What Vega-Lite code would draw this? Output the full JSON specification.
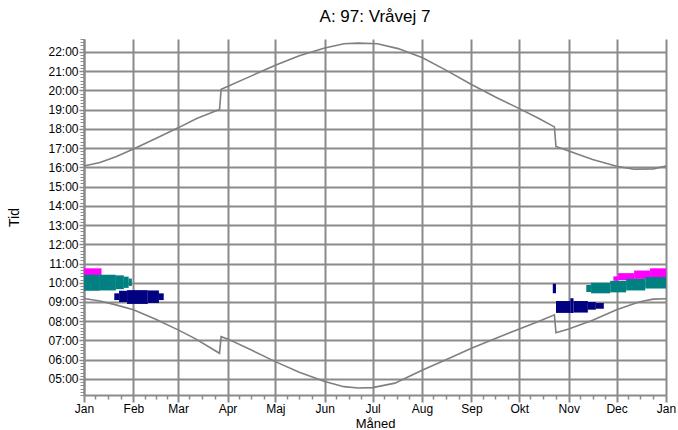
{
  "$schema": "https://vega.github.io/schema/vega-lite/v6.json",
  "autosize": "none",
  "width": 582,
  "height": 356,
  "padding": {"left": 84, "top": 39, "right": 12, "bottom": 35},
  "background": "white",
  "title": {"text": "A: 97: Vråvej 7", "font": "Liberation Sans", "fontSize": 17, "fontWeight": "normal", "color": "black", "anchor": "middle", "offset": 13},
  "config": {"view": {"stroke": null}},
  "datasets": {
    "patches": [
      {"zone": "magenta", "start": "2021-01-01", "end": "2021-01-12", "lo": 624, "hi": 645},
      {"zone": "magenta", "start": "2021-11-29", "end": "2021-12-02", "lo": 606, "hi": 620},
      {"zone": "magenta", "start": "2021-12-02", "end": "2021-12-12", "lo": 608, "hi": 630},
      {"zone": "magenta", "start": "2021-12-12", "end": "2021-12-22", "lo": 612, "hi": 638},
      {"zone": "magenta", "start": "2021-12-22", "end": "2022-01-01", "lo": 615, "hi": 645},
      {"zone": "teal", "start": "2021-01-01", "end": "2021-01-11", "lo": 575, "hi": 625},
      {"zone": "teal", "start": "2021-01-11", "end": "2021-01-21", "lo": 576, "hi": 625},
      {"zone": "teal", "start": "2021-01-21", "end": "2021-01-26", "lo": 580, "hi": 623},
      {"zone": "teal", "start": "2021-01-26", "end": "2021-01-29", "lo": 584, "hi": 619},
      {"zone": "teal", "start": "2021-01-29", "end": "2021-01-31", "lo": 590, "hi": 613},
      {"zone": "teal", "start": "2021-11-12", "end": "2021-11-15", "lo": 571, "hi": 593},
      {"zone": "teal", "start": "2021-11-15", "end": "2021-11-27", "lo": 567, "hi": 600},
      {"zone": "teal", "start": "2021-11-27", "end": "2021-12-07", "lo": 570, "hi": 606},
      {"zone": "teal", "start": "2021-12-07", "end": "2021-12-19", "lo": 576, "hi": 612},
      {"zone": "teal", "start": "2021-12-19", "end": "2022-01-01", "lo": 582, "hi": 618},
      {"zone": "navy", "start": "2021-01-20", "end": "2021-01-23", "lo": 546, "hi": 567},
      {"zone": "navy", "start": "2021-01-23", "end": "2021-01-28", "lo": 540, "hi": 575},
      {"zone": "navy", "start": "2021-01-28", "end": "2021-02-10", "lo": 534, "hi": 577},
      {"zone": "navy", "start": "2021-02-10", "end": "2021-02-17", "lo": 537, "hi": 576},
      {"zone": "navy", "start": "2021-02-17", "end": "2021-02-20", "lo": 546, "hi": 567},
      {"zone": "navy", "start": "2021-10-22", "end": "2021-10-24", "lo": 567, "hi": 597},
      {"zone": "navy", "start": "2021-10-24", "end": "2021-11-02", "lo": 506, "hi": 543},
      {"zone": "navy", "start": "2021-11-02", "end": "2021-11-04", "lo": 506, "hi": 552},
      {"zone": "navy", "start": "2021-11-04", "end": "2021-11-13", "lo": 507, "hi": 543},
      {"zone": "navy", "start": "2021-11-13", "end": "2021-11-18", "lo": 516, "hi": 540},
      {"zone": "navy", "start": "2021-11-18", "end": "2021-11-23", "lo": 519, "hi": 537}
    ],
    "sun": [
      {"series": "Solopgang", "date": "2021-01-01", "min": 551},
      {"series": "Solopgang", "date": "2021-01-11", "min": 543},
      {"series": "Solopgang", "date": "2021-01-21", "min": 531},
      {"series": "Solopgang", "date": "2021-02-01", "min": 516},
      {"series": "Solopgang", "date": "2021-02-15", "min": 486},
      {"series": "Solopgang", "date": "2021-03-01", "min": 453},
      {"series": "Solopgang", "date": "2021-03-12", "min": 425},
      {"series": "Solopgang", "date": "2021-03-27", "min": 380},
      {"series": "Solopgang", "date": "2021-03-28", "min": 432},
      {"series": "Solopgang", "date": "2021-04-01", "min": 425},
      {"series": "Solopgang", "date": "2021-04-16", "min": 390},
      {"series": "Solopgang", "date": "2021-05-01", "min": 354},
      {"series": "Solopgang", "date": "2021-05-16", "min": 321},
      {"series": "Solopgang", "date": "2021-06-01", "min": 292},
      {"series": "Solopgang", "date": "2021-06-13", "min": 276},
      {"series": "Solopgang", "date": "2021-06-22", "min": 272},
      {"series": "Solopgang", "date": "2021-07-01", "min": 273},
      {"series": "Solopgang", "date": "2021-07-15", "min": 287},
      {"series": "Solopgang", "date": "2021-08-01", "min": 327},
      {"series": "Solopgang", "date": "2021-08-16", "min": 360},
      {"series": "Solopgang", "date": "2021-09-01", "min": 396},
      {"series": "Solopgang", "date": "2021-09-16", "min": 426},
      {"series": "Solopgang", "date": "2021-10-01", "min": 456},
      {"series": "Solopgang", "date": "2021-10-13", "min": 479},
      {"series": "Solopgang", "date": "2021-10-23", "min": 500},
      {"series": "Solopgang", "date": "2021-10-24", "min": 444},
      {"series": "Solopgang", "date": "2021-11-01", "min": 456},
      {"series": "Solopgang", "date": "2021-11-16", "min": 483},
      {"series": "Solopgang", "date": "2021-12-01", "min": 516},
      {"series": "Solopgang", "date": "2021-12-15", "min": 540},
      {"series": "Solopgang", "date": "2021-12-24", "min": 549},
      {"series": "Solopgang", "date": "2022-01-01", "min": 550},
      {"series": "Solnedgang", "date": "2021-01-01", "min": 964},
      {"series": "Solnedgang", "date": "2021-01-11", "min": 975},
      {"series": "Solnedgang", "date": "2021-01-21", "min": 993},
      {"series": "Solnedgang", "date": "2021-02-01", "min": 1017},
      {"series": "Solnedgang", "date": "2021-02-15", "min": 1050},
      {"series": "Solnedgang", "date": "2021-03-01", "min": 1083},
      {"series": "Solnedgang", "date": "2021-03-13", "min": 1113},
      {"series": "Solnedgang", "date": "2021-03-27", "min": 1140},
      {"series": "Solnedgang", "date": "2021-03-28", "min": 1203},
      {"series": "Solnedgang", "date": "2021-04-01", "min": 1212},
      {"series": "Solnedgang", "date": "2021-04-16", "min": 1245},
      {"series": "Solnedgang", "date": "2021-05-01", "min": 1278},
      {"series": "Solnedgang", "date": "2021-05-16", "min": 1308},
      {"series": "Solnedgang", "date": "2021-06-01", "min": 1332},
      {"series": "Solnedgang", "date": "2021-06-13", "min": 1345},
      {"series": "Solnedgang", "date": "2021-06-22", "min": 1347},
      {"series": "Solnedgang", "date": "2021-07-04", "min": 1345},
      {"series": "Solnedgang", "date": "2021-07-17", "min": 1330},
      {"series": "Solnedgang", "date": "2021-08-01", "min": 1302},
      {"series": "Solnedgang", "date": "2021-08-16", "min": 1263},
      {"series": "Solnedgang", "date": "2021-09-01", "min": 1218},
      {"series": "Solnedgang", "date": "2021-09-16", "min": 1179},
      {"series": "Solnedgang", "date": "2021-10-01", "min": 1143},
      {"series": "Solnedgang", "date": "2021-10-13", "min": 1113},
      {"series": "Solnedgang", "date": "2021-10-23", "min": 1086},
      {"series": "Solnedgang", "date": "2021-10-24", "min": 1025},
      {"series": "Solnedgang", "date": "2021-11-01", "min": 1011},
      {"series": "Solnedgang", "date": "2021-11-16", "min": 984},
      {"series": "Solnedgang", "date": "2021-12-01", "min": 963},
      {"series": "Solnedgang", "date": "2021-12-12", "min": 954},
      {"series": "Solnedgang", "date": "2021-12-24", "min": 955},
      {"series": "Solnedgang", "date": "2022-01-01", "min": 964}
    ]
  },
  "layer": [
    {
      "data": {"name": "patches"},
      "mark": {"type": "rect"},
      "encoding": {
        "x": {
          "field": "start", "type": "temporal",
          "scale": {"type": "utc", "domain": [{"year": 2021, "month": 1, "date": 1, "utc": true}, {"year": 2022, "month": 1, "date": 1, "utc": true}], "nice": false},
          "axis": {
            "orient": "bottom",
            "values": [
              {"year": 2021, "month": 1, "date": 1, "utc": true}, {"year": 2021, "month": 2, "date": 1, "utc": true},
              {"year": 2021, "month": 3, "date": 1, "utc": true}, {"year": 2021, "month": 4, "date": 1, "utc": true},
              {"year": 2021, "month": 5, "date": 1, "utc": true}, {"year": 2021, "month": 6, "date": 1, "utc": true},
              {"year": 2021, "month": 7, "date": 1, "utc": true}, {"year": 2021, "month": 8, "date": 1, "utc": true},
              {"year": 2021, "month": 9, "date": 1, "utc": true}, {"year": 2021, "month": 10, "date": 1, "utc": true},
              {"year": 2021, "month": 11, "date": 1, "utc": true}, {"year": 2021, "month": 12, "date": 1, "utc": true},
              {"year": 2022, "month": 1, "date": 1, "utc": true}
            ],
            "labelExpr": "['Jan','Feb','Mar','Apr','Maj','Jun','Jul','Aug','Sep','Okt','Nov','Dec'][utcmonth(datum.value)]",
            "grid": true, "gridColor": "#8a8a8a", "gridWidth": 2, "gridOpacity": 1,
            "domainColor": "#8a8a8a", "domainWidth": 2,
            "tickColor": "#8a8a8a", "tickWidth": 2, "tickSize": 7,
            "labelFont": "Liberation Sans", "labelFontSize": 12, "labelColor": "black", "labelPadding": 1,
            "labelOverlap": false, "labelFlush": false,
            "title": "Måned", "titleFont": "Liberation Sans", "titleFontSize": 13, "titleFontWeight": "normal", "titleColor": "black", "titlePadding": 3
          }
        },
        "x2": {"field": "end"},
        "y": {
          "field": "lo", "type": "quantitative",
          "scale": {"domain": [250, 1360], "nice": false, "zero": false},
          "axis": {
            "orient": "left",
            "values": [300, 360, 420, 480, 540, 600, 660, 720, 780, 840, 900, 960, 1020, 1080, 1140, 1200, 1260, 1320],
            "labelExpr": "(datum.value < 600 ? '0' : '') + floor(datum.value / 60) + ':00'",
            "grid": true, "gridColor": "#8a8a8a", "gridWidth": 2, "gridOpacity": 1,
            "domainColor": "#8a8a8a", "domainWidth": 2,
            "tickColor": "#8a8a8a", "tickWidth": 1.5, "tickSize": 5,
            "labelFont": "Liberation Sans", "labelFontSize": 12, "labelColor": "black", "labelPadding": 1,
            "labelOverlap": false,
            "title": "Tid", "titleFont": "Liberation Sans", "titleFontSize": 14, "titleFontWeight": "normal", "titleColor": "black", "titlePadding": 26
          }
        },
        "y2": {"field": "hi"},
        "color": {
          "field": "zone", "type": "nominal",
          "scale": {"domain": ["magenta", "teal", "navy"], "range": ["#FF00FF", "#008080", "#000080"]},
          "legend": null
        }
      }
    },
    {
      "data": {"name": "sun"},
      "mark": {"type": "line", "color": "#7f7f7f", "strokeWidth": 1.6, "interpolate": "linear"},
      "encoding": {
        "x": {
          "field": "date", "type": "temporal",
          "axis": {
            "orient": "bottom",
            "values": [
              {"year": 2021, "month": 1, "date": 8, "utc": true}, {"year": 2021, "month": 1, "date": 16, "utc": true}, {"year": 2021, "month": 1, "date": 24, "utc": true},
              {"year": 2021, "month": 2, "date": 8, "utc": true}, {"year": 2021, "month": 2, "date": 15, "utc": true}, {"year": 2021, "month": 2, "date": 22, "utc": true},
              {"year": 2021, "month": 3, "date": 8, "utc": true}, {"year": 2021, "month": 3, "date": 16, "utc": true}, {"year": 2021, "month": 3, "date": 24, "utc": true},
              {"year": 2021, "month": 4, "date": 8, "utc": true}, {"year": 2021, "month": 4, "date": 16, "utc": true}, {"year": 2021, "month": 4, "date": 24, "utc": true},
              {"year": 2021, "month": 5, "date": 8, "utc": true}, {"year": 2021, "month": 5, "date": 16, "utc": true}, {"year": 2021, "month": 5, "date": 24, "utc": true},
              {"year": 2021, "month": 6, "date": 8, "utc": true}, {"year": 2021, "month": 6, "date": 16, "utc": true}, {"year": 2021, "month": 6, "date": 24, "utc": true},
              {"year": 2021, "month": 7, "date": 8, "utc": true}, {"year": 2021, "month": 7, "date": 16, "utc": true}, {"year": 2021, "month": 7, "date": 24, "utc": true},
              {"year": 2021, "month": 8, "date": 8, "utc": true}, {"year": 2021, "month": 8, "date": 16, "utc": true}, {"year": 2021, "month": 8, "date": 24, "utc": true},
              {"year": 2021, "month": 9, "date": 8, "utc": true}, {"year": 2021, "month": 9, "date": 16, "utc": true}, {"year": 2021, "month": 9, "date": 24, "utc": true},
              {"year": 2021, "month": 10, "date": 8, "utc": true}, {"year": 2021, "month": 10, "date": 16, "utc": true}, {"year": 2021, "month": 10, "date": 24, "utc": true},
              {"year": 2021, "month": 11, "date": 8, "utc": true}, {"year": 2021, "month": 11, "date": 16, "utc": true}, {"year": 2021, "month": 11, "date": 24, "utc": true},
              {"year": 2021, "month": 12, "date": 8, "utc": true}, {"year": 2021, "month": 12, "date": 16, "utc": true}, {"year": 2021, "month": 12, "date": 24, "utc": true}
            ],
            "labels": false, "grid": false, "domain": false,
            "tickColor": "#8a8a8a", "tickWidth": 1.5, "tickSize": 4,
            "title": null
          }
        },
        "y": {
          "field": "min", "type": "quantitative",
          "axis": {
            "orient": "left",
            "tickCount": 120,
            "labels": false, "grid": false, "domain": false,
            "tickColor": "#8a8a8a", "tickWidth": 1, "tickSize": 4,
            "title": null
          }
        },
        "detail": {"field": "series", "type": "nominal"}
      }
    }
  ],
  "resolve": {"axis": {"x": "independent", "y": "independent"}}
}
